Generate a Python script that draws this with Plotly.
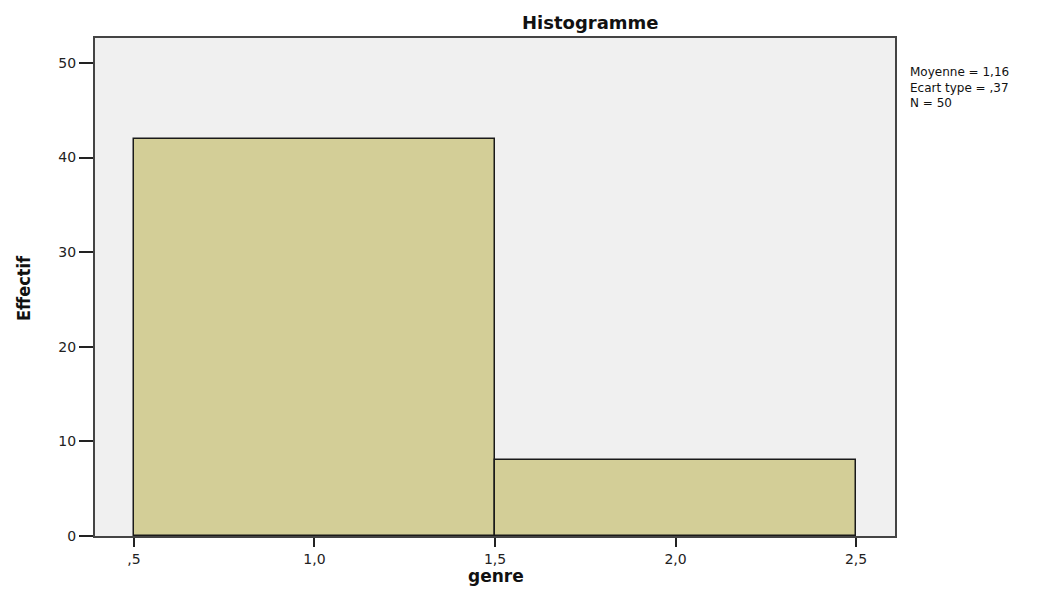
import plotly.graph_objects as go

bin_centers = [1.0, 2.0]
counts = [42, 8]
bin_width = 1.0
x_tickvals = [0.5, 1.0, 1.5, 2.0, 2.5]
x_ticktext = [",5", "1,0", "1,5", "2,0", "2,5"]
y_tickvals = [0, 10, 20, 30, 40, 50]
stats_lines = ["Moyenne = 1,16", "Ecart type = ,37", "N = 50"]

# page offset (body margin) compensation: plot area targeted at page px
PL, PR, PT, PB = 95, 895, 38, 536
OFF = 8
W, H = 1062, 591

def px(xp):
    return (xp - PL) / (PR - PL)

def py(yp):
    return (PB - yp) / (PB - PT)

fig = go.Figure()
fig.add_trace(go.Bar(
    x=bin_centers, y=counts, width=[bin_width] * len(bin_centers),
    marker=dict(color="#d3ce97", line=dict(color="#1a1a1a", width=1.5)),
    hoverinfo="x+y",
))

font_family = "DejaVu Sans, Liberation Sans, Arial, sans-serif"
fig.update_layout(
    width=W, height=H,
    margin=dict(l=PL - OFF, r=W - (PR - OFF), t=PT - OFF, b=H - (PB - OFF)),
    paper_bgcolor="white", plot_bgcolor="#f0f0f0",
    showlegend=False, bargap=0,
    font=dict(family=font_family, size=13, color="#222"),
)
fig.update_xaxes(
    range=[0.392, 2.608], tickvals=x_tickvals, ticktext=x_ticktext,
    ticks="outside", ticklen=9, tickwidth=1.5, tickcolor="#222",
    showline=True, linecolor="#444", linewidth=2, mirror=True,
    showgrid=False, zeroline=False,
    tickfont=dict(size=14, color="#222"),
)
fig.update_yaxes(
    range=[0, 52.64], tickvals=y_tickvals,
    ticks="outside", ticklen=14, tickwidth=1.5, tickcolor="#222",
    showline=True, linecolor="#444", linewidth=2, mirror=True,
    showgrid=False, zeroline=False,
    tickfont=dict(size=14, color="#222"),
)
fig.add_annotation(
    xref="paper", yref="paper", x=px(23), y=py(288), xanchor="center", yanchor="middle",
    text="<b>Effectif</b>", textangle=-90, showarrow=False,
    font=dict(family="DejaVu Sans Condensed, DejaVu Sans, sans-serif", size=18, color="#111"),
)
fig.add_annotation(
    xref="paper", yref="paper", x=px(496), y=py(576), xanchor="center", yanchor="middle",
    text="<b>genre</b>", showarrow=False,
    font=dict(size=17, color="#111"),
)
fig.add_annotation(
    xref="paper", yref="paper", x=px(590), y=py(22), xanchor="center", yanchor="middle",
    text="<b>Histogramme</b>", showarrow=False,
    font=dict(size=18, color="#111"),
)
fig.add_annotation(
    xref="paper", yref="paper", x=px(908), y=py(63),
    xanchor="left", yanchor="top", align="left", text="<br>".join(stats_lines), showarrow=False,
    font=dict(size=12, color="#111"),
)

fig.write_html("out.html")
